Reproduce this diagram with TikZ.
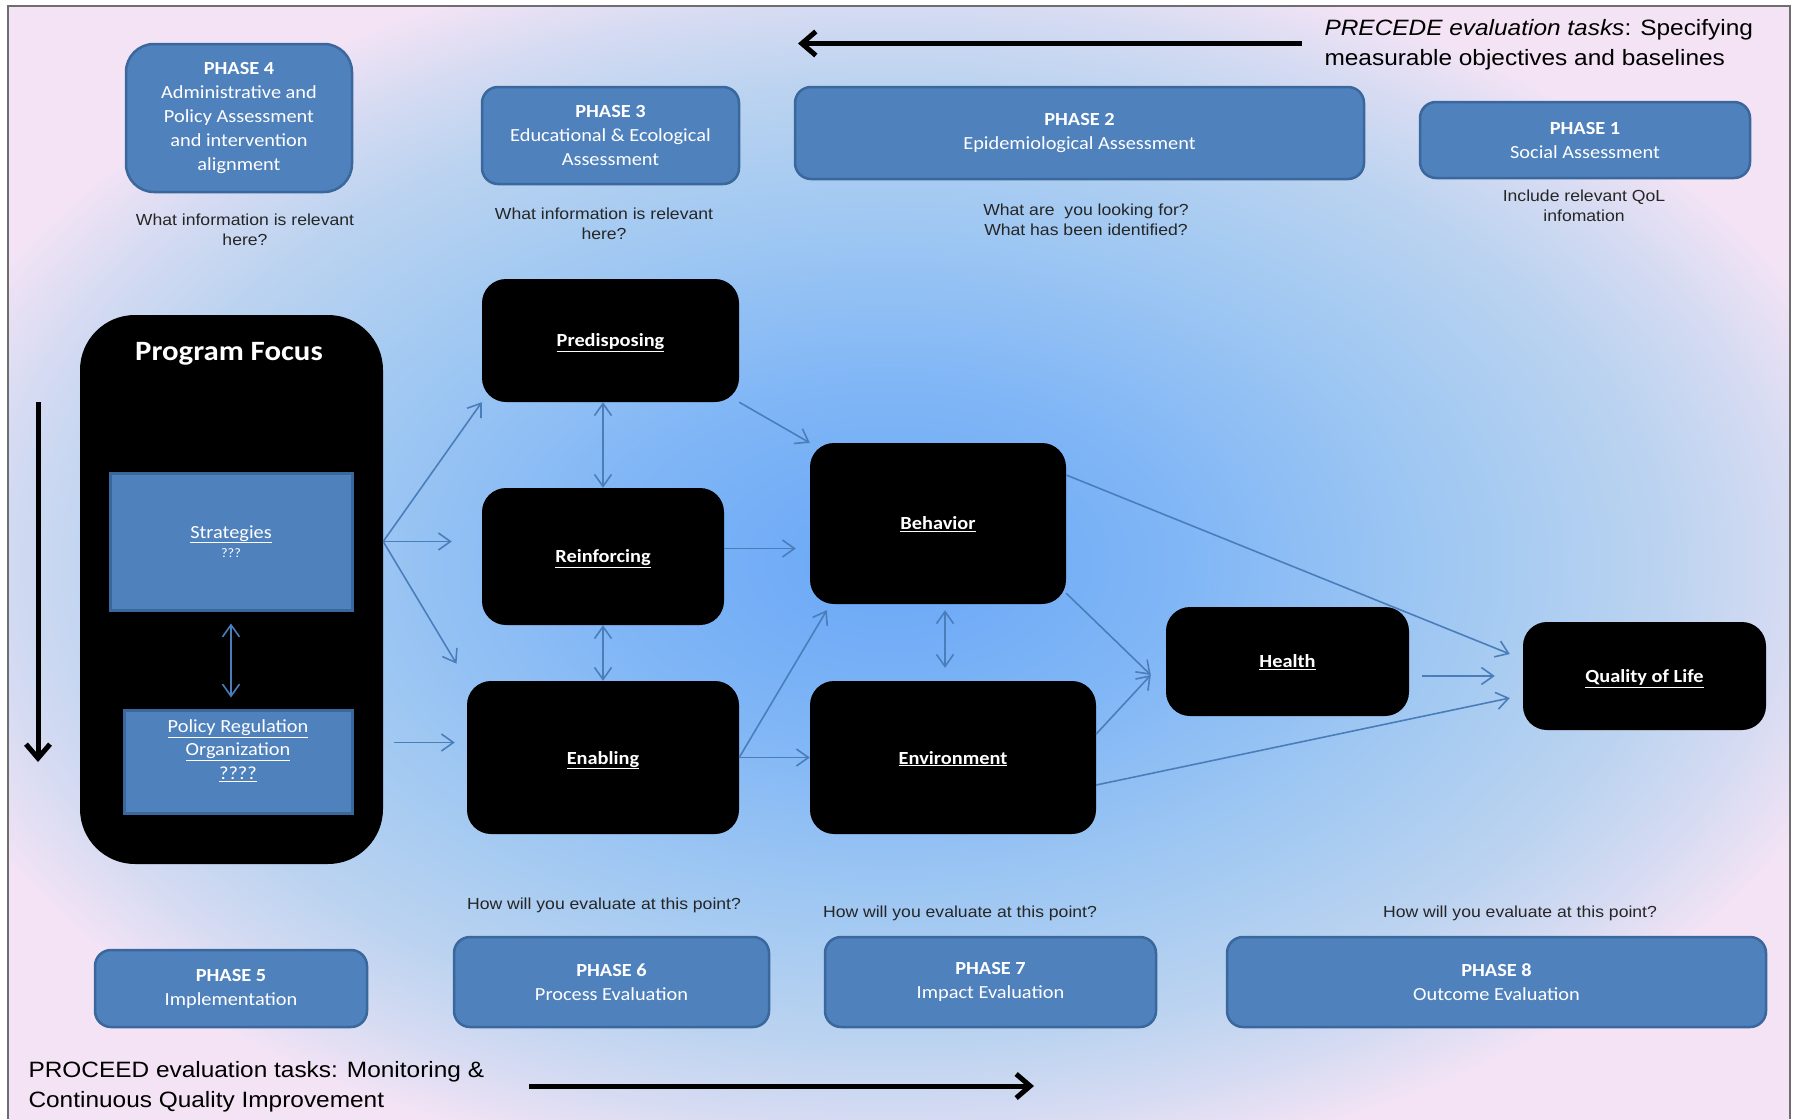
\documentclass[tikz,border=0pt]{standalone}
\usepackage{fontspec}
\setmainfont{Carlito}[FakeStretch=1.1]
\newfontfamily\arialfont{Liberation Sans}[FakeStretch=1.1]
\usetikzlibrary{arrows.meta}

\definecolor{phasefill}{HTML}{4F81BD}
\definecolor{phaseline}{HTML}{3A679C}
\definecolor{linkblue}{HTML}{4A7EBB}
\definecolor{bgblue}{HTML}{6AA7F7}
\definecolor{bgbluetwo}{HTML}{80B6F6}
\definecolor{bgmid}{HTML}{A2C9F2}
\definecolor{bgpale}{HTML}{BBD3F0}
\definecolor{bglav}{HTML}{D5DBF2}
\definecolor{bgrose}{HTML}{F3E3F5}
\definecolor{bgpink}{HTML}{F6E4F5}
\definecolor{framegray}{HTML}{6E6E6E}

\pgfdeclareradialshading{backglow}{\pgfpoint{0bp}{0bp}}{%
  color(0bp)=(bgblue); color(8bp)=(bgbluetwo); color(16bp)=(bgmid);
  color(21.5bp)=(bgpale); color(25bp)=(bglav); color(28bp)=(bgrose);
  color(50bp)=(bgpink)}

\newcommand{\phasefont}{\fontsize{18.5}{24}\selectfont}
\newcommand{\askfont}{\arialfont\fontsize{16}{20}\selectfont}
\newcommand{\taskfont}{\arialfont\fontsize{22.2}{30}\selectfont}
\newcommand{\factorfont}{\bfseries\fontsize{18.5}{22}\selectfont}

\tikzset{
  phasebox/.style={draw=phaseline, line width=2.5pt, fill=phasefill, text=white,
    align=center, font=\phasefont, rounded corners=16pt, inner sep=0pt},
  factorbox/.style={fill=black, text=white, font=\factorfont,
    rounded corners=24pt, inner sep=0pt, text depth=0pt},
  focusbox/.style={draw=phaseline, line width=3pt, fill=phasefill, text=white,
    align=center, font=\fontsize{18.5}{23.5}\selectfont, inner sep=0pt},
  ask/.style={align=center, font=\askfont, text=black!85},
  link/.style={draw=linkblue, line width=1.6pt,
    >={Straight Barb[length=12pt,width=17pt]}, ->},
  linkboth/.style={link, <->},
  bigarrow/.style={line width=5pt, -{Straight Barb[length=14pt,width=24pt]}},
}

\begin{document}
\begin{tikzpicture}[x=1pt, y=-1pt]
        \useasboundingbox (0,0) rectangle (1796,1119);
        \begin{scope}
            \clip (9,7) rectangle (1789,1119);
            \shade[shading=backglow] (-10,7) rectangle (1789,1119);
        \end{scope}
        \draw[framegray, line width=1.2pt] (8,1119) |- (1790,6) -- (1790,1119);

        % PRECEDE side
        \node[phasebox, minimum width=226pt, minimum height=148pt, rounded corners=28pt] (phase4) at (239,118)
            {\textbf{PHASE 4}\\Administrative and\\Policy Assessment\\and intervention\\alignment};
        \node[phasebox, minimum width=257pt, minimum height=97pt] (phase3) at (610.5,135.5)
            {\textbf{PHASE 3}\\Educational \& Ecological\\Assessment};
        \node[phasebox, minimum width=569pt, minimum height=92pt] (phase2) at (1079.5,133)
            {\textbf{PHASE 2}\\Epidemiological Assessment};
        \node[phasebox, minimum width=330pt, minimum height=76pt] (phase1) at (1585,140)
            {\textbf{PHASE 1}\\Social Assessment};

        \node[ask] (ask4) at (245,230) {What information is relevant\\here?};
        \node[ask] (ask3) at (604,223.5) {What information is relevant\\here?};
        \node[ask] (ask2) at (1086,219.5) {What are \ you looking for?\\What has been identified?};
        \node[ask] (ask1) at (1584,206) {Include relevant QoL\\infomation};

        \node[font=\taskfont, align=left, anchor=west] (precede) at (1321,45)
            {\textit{PRECEDE evaluation tasks}: Specifying\\measurable objectives and baselines};
        \coordinate (precedetail) at (1302,43.5);
        \coordinate (precedehead) at (798,43.5);
        \draw[bigarrow] (precedetail) -- (precedehead);

        % program focus
        \coordinate (downtail) at (38,402);
        \coordinate (downhead) at (38,762);
        \draw[bigarrow] (downtail) -- (downhead);
        \node[factorbox, minimum width=303pt, minimum height=549pt, rounded corners=55pt] (focus) at (231.5,589.5) {};
        \node[text=white, font=\bfseries\fontsize{28}{32}\selectfont] (focustitle) at (229,354) {Program Focus};
        \node[focusbox, minimum width=242pt, minimum height=137pt] (strat) at (231,541.5)
            {\underline{Strategies}\\[-4pt]{\fontsize{13}{16}\selectfont ???}};
        \node[focusbox, minimum width=228pt, minimum height=103pt, text depth=24pt] (policy) at (238,761.5)
            {\underline{Policy Regulation}\\\underline{Organization}\\\underline{????}};
        \draw[linkboth] ([yshift=-12pt]strat.south) -- ([yshift=11pt]strat.south |- policy.north);

        % factors
        \node[factorbox, minimum width=257pt, minimum height=123pt] (pred) at (610.5,340.5) {\underline{Predisposing}};
        \node[factorbox, minimum width=242pt, minimum height=137pt] (reinf) at (603,556.5) {\underline{Reinforcing}};
        \node[factorbox, minimum width=272pt, minimum height=153pt] (enab) at (603,757.5) {\underline{Enabling}};
        \node[factorbox, minimum width=256pt, minimum height=161pt] (behav) at (938,523.5) {\underline{Behavior}};
        \node[factorbox, minimum width=286pt, minimum height=153pt] (env) at (953,757.5) {\underline{Environment}};
        \node[factorbox, minimum width=243pt, minimum height=109pt] (health) at (1287.5,661.5) {\underline{Health}};
        \node[factorbox, minimum width=243pt, minimum height=108pt] (qol) at (1644.5,676) {\underline{Quality of Life}};

        \coordinate (healthin) at ([xshift=-15pt,yshift=-13.5pt]health.west);

        \draw[link] (focus.east |- strat.east) -- (pred.south west);
        \draw[link] (focus.east |- strat.east) -- ([xshift=-30pt]reinf.west |- strat.east);
        \draw[link, shorten >=20pt] (focus.east |- strat.east) -- (enab.north west);
        \draw[link] ([xshift=11pt,yshift=15pt]focus.east |- enab.west) -- ([xshift=-12pt,yshift=15pt]enab.west);
        \draw[linkboth] (reinf.north |- pred.south) -- (reinf.north);
        \draw[linkboth] (reinf.south) -- (reinf.south |- enab.north);
        \draw[link] (pred.south east) -- (behav.north west);
        \draw[link] ([yshift=8pt]reinf.east) -- ([xshift=-14pt,yshift=8pt]behav.west |- reinf.east);
        \draw[link] (enab.east) -- ([xshift=17pt,yshift=-6pt]behav.south west);
        \draw[link] (enab.east) -- (env.west);
        \draw[linkboth] ([xshift=7pt,yshift=-6pt]behav.south) -- ([xshift=7pt,yshift=13pt]behav.south |- env.north);
        \draw[link] ([yshift=11pt]behav.south east) -- (healthin);
        \draw[link] ([yshift=23.5pt]env.east) -- (healthin);
        \draw[link] ([yshift=48.5pt]behav.east) -- ([xshift=-13pt,yshift=22pt]qol.west);
        \draw[link] ([xshift=13pt]health.east |- qol.west) -- ([xshift=-28pt]qol.west);
        \draw[link] ([yshift=-27.5pt]env.east) -- ([xshift=-13pt,yshift=-22pt]qol.west);

        % PROCEED side
        \node[ask] (ask6) at (604,905) {How will you evaluate at this point?};
        \node[ask] (ask7) at (960,913) {How will you evaluate at this point?};
        \node[ask] (ask8) at (1520,913) {How will you evaluate at this point?};
        \node[phasebox, minimum width=272pt, minimum height=77pt] (phase5) at (231,988.5)
            {\textbf{PHASE 5}\\Implementation};
        \node[phasebox, minimum width=315pt, minimum height=90pt] (phase6) at (611.5,982)
            {\textbf{PHASE 6}\\Process Evaluation};
        \node[phasebox, minimum width=331pt, minimum height=90pt] (phase7) at (990.5,982)
            {\textbf{PHASE 7}\\Impact Evaluation};
        \node[phasebox, minimum width=539pt, minimum height=90pt] (phase8) at (1496.5,982)
            {\textbf{PHASE 8}\\Outcome Evaluation};

        \node[font=\taskfont, align=left, anchor=west] (proceed) at (25,1087)
            {PROCEED evaluation tasks: Monitoring \&\\Continuous Quality Improvement};
        \coordinate (proceedtail) at (529,1086);
        \coordinate (proceedhead) at (1034,1086);
        \draw[bigarrow] (proceedtail) -- (proceedhead);
\end{tikzpicture}
\end{document}
